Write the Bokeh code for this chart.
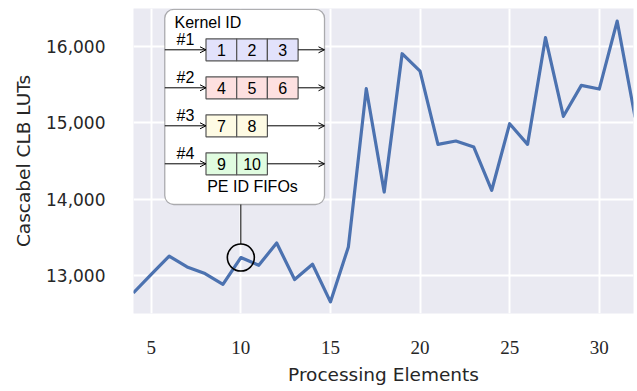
from bokeh.plotting import figure
from bokeh.models import (Range1d, BoxAnnotation, Arrow, OpenHead, ColumnDataSource,
                          FixedTicker, NumeralTickFormatter)
from bokeh.core.properties import value
from bokeh.embed import file_html
from bokeh.resources import INLINE

# ---------------- data ----------------
pe = list(range(4, 33))
luts = [12778, 13020, 13258, 13117, 13031, 12891, 13240, 13139, 13430, 12953,
        13152, 12661, 13378, 15444, 14095, 15900, 15674, 14717, 14761, 14682,
        14118, 14987, 14717, 16109, 15083, 15487, 15439, 16326, 15070]
x_ticks = [5, 10, 15, 20, 25, 30]
y_ticks = [13000, 14000, 15000, 16000]
highlight_pe = 10
kernel_labels = ["#1", "#2", "#3", "#4"]
kernel_fifos = [[1, 2, 3], [4, 5, 6], [7, 8], [9, 10]]
kernel_colors = ["#e2e2fb", "#fde0e0", "#fefbe4", "#e0fce0"]

# ---------------- layout ----------------
FW, FH = 500, 305
PX_PER_PE = 17.92
X0 = 4.01
Y0, Y1 = 12510, 16490

p = figure(frame_width=FW, frame_height=FH,
           x_range=Range1d(X0, X0 + FW / PX_PER_PE), y_range=Range1d(Y0, Y1),
           output_backend="svg", toolbar_location=None,
           min_border_left=133, min_border_right=4, min_border_top=8, min_border_bottom=78,
           background_fill_color="#eaeaf2", border_fill_color="white",
           outline_line_color=None)

p.extra_x_ranges = {"px": Range1d(0, FW)}
p.extra_y_ranges = {"px": Range1d(0, FH)}

# grid
p.xgrid.ticker = FixedTicker(ticks=x_ticks)
p.ygrid.ticker = FixedTicker(ticks=y_ticks)
for g in (p.xgrid, p.ygrid):
    g.grid_line_color = "white"
    g.grid_line_width = 2

# axes
p.xaxis.ticker = FixedTicker(ticks=x_ticks)
p.yaxis.ticker = FixedTicker(ticks=y_ticks)
p.yaxis.formatter = NumeralTickFormatter(format="0,0")
for ax in (p.xaxis, p.yaxis):
    ax.axis_line_color = None
    ax.major_tick_line_color = None
    ax.minor_tick_line_color = None
    ax.major_tick_out = 0
    ax.major_tick_in = 0
    ax.minor_tick_out = 0
    ax.minor_tick_in = 0
    ax.major_label_text_color = "#262626"
    ax.axis_label_text_color = "#262626"
    ax.axis_label_text_font_style = "normal"
    ax.axis_label_text_font = "DejaVu Sans"
    ax.axis_label_text_font_size = "18.5px"

p.xaxis.axis_label = "Processing Elements"
p.yaxis.axis_label = "Cascabel CLB LUTs"
p.xaxis.major_label_text_font = "Liberation Serif"
p.xaxis.major_label_text_font_size = "19px"
p.xaxis.major_label_standoff = 27
p.xaxis.axis_label_standoff = 7
p.yaxis.major_label_text_font = "DejaVu Sans"
p.yaxis.major_label_text_font_size = "17px"
p.yaxis.major_label_standoff = 28
p.yaxis.axis_label_standoff = 9

# main line
p.line(pe, luts, line_color="#4c72b0", line_width=3.2, line_join="round")

# ---------------- inset ----------------
def ty(t):
    """frame px measured from top -> px range value"""
    return FH - t

BOX_L, BOX_R, BOX_T, BOX_B = 31.3, 191.0, 0.8, 196.0
box = BoxAnnotation(left=BOX_L, right=BOX_R, top=ty(BOX_T), bottom=ty(BOX_B),
                    x_range_name="px", y_range_name="px",
                    fill_color="white", fill_alpha=1.0,
                    line_color="black", line_width=1.3, border_radius=9)
p.add_layout(box)

ROW0, PITCH = 41.3, 38.0
CELL_L, CELL_W, CELL_H = 72.5, 30.7, 22.0
FONT = value("Liberation Sans")

cx, cy, cfill, ctext = [], [], [], []
ax0, ax1, ay = [], [], []
for i, (fifo, col) in enumerate(zip(kernel_fifos, kernel_colors)):
    row_t = ROW0 + i * PITCH
    for j, pid in enumerate(fifo):
        cx.append(CELL_L + CELL_W * (j + 0.5))
        cy.append(ty(row_t))
        cfill.append(col)
        ctext.append(str(pid))
    ax0 += [BOX_L, CELL_L + CELL_W * len(fifo)]
    ax1 += [CELL_L, BOX_R]
    ay += [ty(row_t), ty(row_t)]

arrow_src = ColumnDataSource(dict(x0=ax0, x1=ax1, y=ay))
p.add_layout(Arrow(end=OpenHead(size=6, line_width=1, line_color="black"),
                   source=arrow_src, x_start="x0", y_start="y", x_end="x1", y_end="y",
                   line_color="black", line_width=1,
                   x_range_name="px", y_range_name="px", level="overlay"))

p.rect(x=cx, y=cy, width=CELL_W, height=CELL_H, fill_color=cfill,
       line_color="#555555", line_width=1.2,
       x_range_name="px", y_range_name="px", level="overlay")
p.text(x=cx, y=cy, text=ctext, text_font=FONT, text_font_size="16px",
       text_align="center", text_baseline="middle", text_color="black",
       x_range_name="px", y_range_name="px", level="overlay")

p.text(x=[43] * len(kernel_labels),
       y=[ty(ROW0 + i * PITCH - 10.5) for i in range(len(kernel_labels))],
       text=kernel_labels, text_font=FONT, text_font_size="16px",
       text_align="left", text_baseline="middle", text_color="black",
       x_range_name="px", y_range_name="px", level="overlay")

p.text(x=[41], y=[ty(13.5)], text=["Kernel ID"], text_font=FONT, text_font_size="16px",
       text_align="left", text_baseline="middle", text_color="black",
       x_range_name="px", y_range_name="px", level="overlay")
p.text(x=[119], y=[ty(177.7)], text=["PE ID FIFOs"], text_font=FONT, text_font_size="16px",
       text_align="center", text_baseline="middle", text_color="black",
       x_range_name="px", y_range_name="px", level="overlay")

# highlight circle + connector
hl_val = luts[pe.index(highlight_pe)]
CIRC_D = 27
hl_px = (hl_val - Y0) / (Y1 - Y0) * FH
p.segment(x0=[highlight_pe], y0=[ty(BOX_B)], x1=[highlight_pe], y1=[hl_px + CIRC_D / 2],
          line_color="black", line_width=1, y_range_name="px", level="overlay")
p.scatter([highlight_pe], [hl_val], marker="circle", size=CIRC_D, fill_color=None,
          line_color="black", line_width=1.6, level="overlay")

open("out.html", "w").write(file_html(p, INLINE))
